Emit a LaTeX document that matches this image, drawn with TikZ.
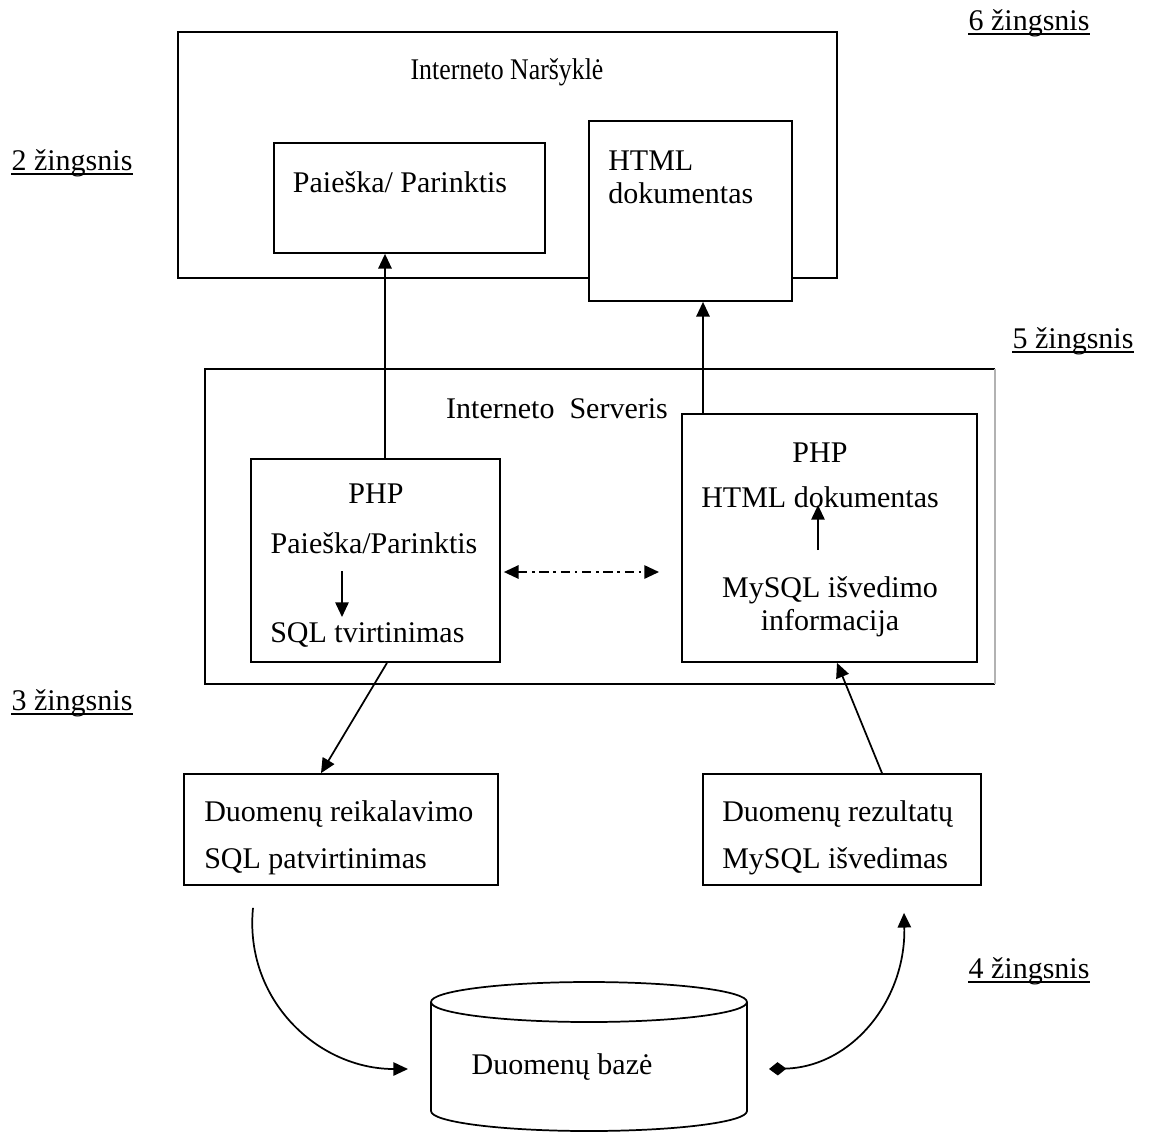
\documentclass[tikz,border=0pt]{standalone}
\usepackage{fontspec}
\usepackage{graphicx}
\setmainfont{Liberation Serif}
\usetikzlibrary{arrows.meta,fit,calc}

\tikzset{
  box/.style={draw, line width=1.3pt, fill=white, inner sep=0pt},
  lbl/.style={anchor=base, inner sep=0pt, font=\fontsize{22.5}{27}\selectfont},
  lbll/.style={lbl, anchor=base west},
  steplbl/.style={lbl},
  uline/.style={line width=1.3pt},
  arr/.style={line width=1.3pt, -{Triangle[length=11pt,width=10pt]}},
}

\begin{document}
\begin{tikzpicture}[x=0.75pt,y=0.75pt,yscale=-1,xscale=1]
\useasboundingbox (0,0) rectangle (1152,1136);

%Steps
\node[steplbl] (s6) at (1029,30) {6 žingsnis};
\node[steplbl] (s2) at (72,170) {2 žingsnis};
\node[steplbl] (s5) at (1073,348) {5 žingsnis};
\node[steplbl] (s3) at (72,710) {3 žingsnis};
\node[steplbl] (s4) at (1029,978) {4 žingsnis};
\foreach \s in {s2,s3,s4,s5,s6}
  \draw[uline] ($(\s.base west)+(0,4)$) -- ($(\s.base east)+(0,4)$);

%Browser
\node[box, fit={(178,32) (837,278)}] (browser) {};
\node[lbl] (browsertitle) at (507,79) {\scalebox{0.86}[1]{Interneto Naršyklė}};
\node[box, fit={(274,143) (545,253)}] (search) {};
\node[lbl] (searchtxt) at (400,192) {Paieška/ Parinktis};
\node[box, fit={(589,121) (792,301)}] (html) {};
\node[lbll] (htmltxt) at (608,170) {HTML};
\node[lbll] (htmltxtb) at (608,203) {dokumentas};

%Server
\node[fit={(205,369) (995,684)}, inner sep=0pt] (server) {};
\draw[line width=1.3pt] (server.north east) -- (server.north west) -- (server.south west) -- (server.south east);
\draw[line width=1.3pt, black!30] (server.north east) -- (server.south east);
\node[lbl] (servertitle) at (557,418) {Interneto\ \ Serveris};

\node[box, fit={(251,459) (500,662)}] (phpl) {};
\node[lbl] (phpla) at (376,503) {PHP};
\node[lbl] (phplb) at (374,553) {Paieška/Parinktis};
\node[lbll] (phplc) at (270,642) {SQL tvirtinimas};
\coordinate (qa) at (342,571);
\coordinate (qb) at (342,617);
\draw[arr] (qa) -- (qb);

\node[box, fit={(682,414) (977,662)}] (phpr) {};
\node[lbl] (phpra) at (820,462) {PHP};
\node[lbl] (phprb) at (820,507) {HTML dokumentas};
\node[lbl] (phprc) at (830,597) {MySQL išvedimo};
\node[lbl] (phprd) at (830,630) {informacija};
\coordinate (ma) at (818,550);
\coordinate (mb) at (818,505);
\draw[arr] (ma) -- (mb);

\coordinate (link) at (659,572);
\draw[line width=1.3pt, dash pattern=on 7pt off 3.5pt on 2pt off 3.5pt,
  {Triangle[length=11pt,width=10pt]}-{Triangle[length=11pt,width=10pt]}]
  ($(phpl.east)+(3,11.5)$) -- (link);

%Up to browser
\coordinate (u1) at ($(phpl.north)+(9.5,0)$);
\draw[arr] (u1) -- (u1 |- search.south);
\coordinate (u2) at ($(html.south)+(12.5,0)$);
\draw[arr] (u2 |- phpr.north) -- (u2);

%Lower boxes
\node[box, fit={(184,774) (498,885)}] (req) {};
\node[lbll] (reqa) at (204,821) {Duomenų reikalavimo};
\node[lbll] (reqb) at (204,868) {SQL patvirtinimas};
\node[box, fit={(703,774) (981,885)}] (res) {};
\node[lbll] (resa) at (722,821) {Duomenų rezultatų};
\node[lbll] (resb) at (722,868) {MySQL išvedimas};

\draw[arr] ($(phpl.south)+(11.5,0)$) -- ($(req.north)+(-20,0)$);
\draw[arr] ($(res.north)+(40,0)$) -- ($(phpr.south)+(7.5,0)$);

%Database
\draw[line width=1.3pt, fill=white] (431,1002) -- (431,1111)
  arc[start angle=180, end angle=0, x radius=158, y radius=20] -- (747,1002)
  arc[start angle=0, end angle=-180, x radius=158, y radius=20] -- cycle;
\draw[line width=1.3pt] (431,1002) arc[start angle=180, end angle=0, x radius=158, y radius=20];
\node[lbl] (db) at (562,1074) {Duomenų bazė};

\coordinate (dbin) at (408,1069);
\coordinate (dbout) at (769,1069);
\coordinate (reqout) at ($(req.south)+(-88,22)$);
\coordinate (resin) at ($(res.south)+(62,27)$);
\draw[arr] (reqout) .. controls (244,1000) and (318,1069) .. (dbin);
\draw[line width=1.3pt, {Diamond[length=13pt,width=10pt]}-{Triangle[length=11pt,width=10pt]}]
  (dbout) .. controls (852,1067) and (906,1000) .. (resin);

\end{tikzpicture}
\end{document}
